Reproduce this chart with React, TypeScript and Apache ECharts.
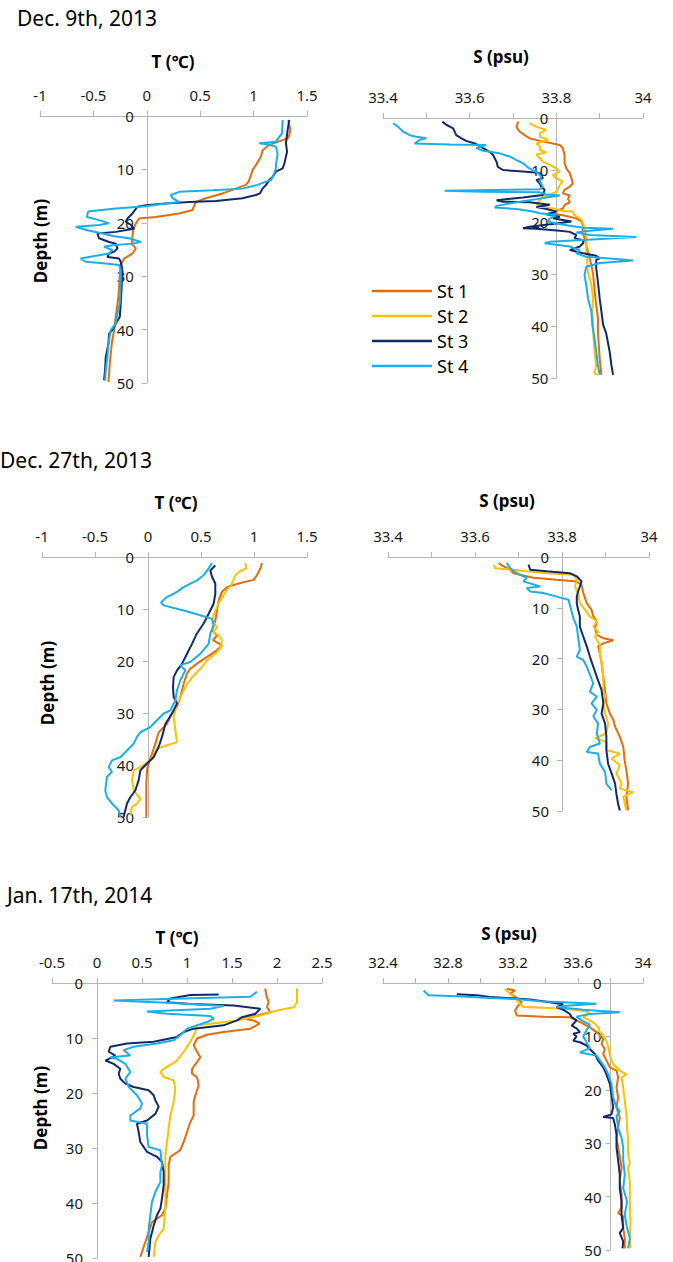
import React, { useEffect, useRef } from "react";
import * as echarts from "echarts";

const STATIONS = ["St 1", "St 2", "St 3", "St 4"];
const COLORS = ["#E46C0A", "#FFC000", "#10296A", "#1AAEEB"];
const DATES = ["Dec. 9th, 2013", "Dec. 27th, 2013", "Jan. 17th, 2014"];
const T_TITLE = "T (℃)";
const S_TITLE = "S (psu)";
const DEPTH_TITLE = "Depth (m)";

// ---- Dec. 9th, 2013 : temperature [T, depth] ----
const dec9T_st1: [number, number][] = [[1.325,0.75],[1.344,2.6],[1.334,3.6],[1.319,4.2],[1.147,5.4],[1.084,6.4],[1.069,7.6],[1.022,9.2],[0.991,10.1],[0.975,11.1],[0.953,12.3],[0.928,12.9],[0.834,13.6],[0.709,14.5],[0.553,15.4],[0.459,16.1],[0.428,17.6],[0.303,18.25],[0.084,18.9],[-0.072,19.2],[-0.103,20.1],[-0.128,21.4],[-0.141,23.9],[-0.103,24.8],[-0.134,25.75],[-0.213,26.7],[-0.244,27.9],[-0.253,30.1],[-0.266,33.9],[-0.291,37.6],[-0.306,40.1],[-0.328,42.6],[-0.347,46.4],[-0.359,49.8]];
const dec9T_st3: [number, number][] = [[1.334,0.75],[1.319,2.6],[1.303,5.1],[1.313,6.7],[1.288,8.9],[1.272,9.8],[1.209,10.4],[1.178,11.4],[1.147,12],[1.116,12.9],[1.084,13.6],[1.059,14.5],[1.022,14.8],[0.897,15.4],[0.647,15.9],[0.397,16.1],[0.178,16.4],[-0.009,16.7],[-0.088,17],[-0.134,18.25],[-0.181,19.2],[-0.197,19.8],[-0.15,20.4],[-0.119,21.1],[-0.291,21.7],[-0.463,22],[-0.447,22.9],[-0.353,23.6],[-0.291,23.9],[-0.275,24.8],[-0.306,25.4],[-0.353,25.75],[-0.369,26.4],[-0.259,26.7],[-0.244,27.3],[-0.228,28.9],[-0.234,31.4],[-0.244,35.1],[-0.253,37.6],[-0.291,38.9],[-0.322,40.1],[-0.353,40.75],[-0.359,42.6],[-0.384,45.1],[-0.391,47.6],[-0.4,49.5]];
const dec9T_st4: [number, number][] = [[1.272,0.75],[1.266,3.25],[1.209,4.8],[1.053,5.1],[1.147,5.4],[1.209,5.75],[1.225,7],[1.209,9.2],[1.209,9.8],[1.194,10.75],[1.163,12],[1.116,12.3],[1.038,12.9],[0.897,13.6],[0.616,13.9],[0.303,14.2],[0.225,14.8],[0.241,15.4],[0.303,16.1],[0.178,16.4],[-0.009,16.9],[-0.291,17.3],[-0.55,17.9],[-0.56,18.9],[-0.447,19.5],[-0.353,20.1],[-0.447,20.4],[-0.666,20.75],[-0.556,21.4],[-0.416,22],[-0.306,22.5],[-0.166,22.9],[-0.056,23.6],[-0.134,23.9],[-0.322,24.2],[-0.4,24.5],[-0.322,25.1],[-0.353,25.75],[-0.541,26.4],[-0.619,26.7],[-0.572,27.3],[-0.384,27.6],[-0.259,27.9],[-0.244,28.9],[-0.244,31.4],[-0.253,35.1],[-0.275,37],[-0.291,38.9],[-0.338,40.1],[-0.359,42.6],[-0.369,45.1],[-0.384,47.6],[-0.391,49.5]];

// ---- Dec. 9th, 2013 : salinity [S, depth] ----
const dec9S_st1: [number, number][] = [[33.712,0.7],[33.708,1.7],[33.715,2.6],[33.727,3.3],[33.738,3.9],[33.762,4.4],[33.792,4.9],[33.808,5.2],[33.815,5.8],[33.819,7.1],[33.819,8.7],[33.823,9.7],[33.831,10.6],[33.835,11.6],[33.838,12.6],[33.831,13.2],[33.819,13.8],[33.815,14.5],[33.831,14.9],[33.827,15.6],[33.831,16.2],[33.819,16.7],[33.815,17.4],[33.8,17.9],[33.788,18.3],[33.815,18.7],[33.846,19.3],[33.858,19.9],[33.862,20.9],[33.86,21.9],[33.865,23.1],[33.869,24.4],[33.873,25.7],[33.877,27],[33.881,28.3],[33.885,30.2],[33.888,32.8],[33.892,36],[33.896,38.5],[33.896,41.1],[33.898,43.7],[33.9,46.2],[33.904,49.4]];
const dec9S_st2: [number, number][] = [[33.738,1],[33.754,1.7],[33.777,2.3],[33.762,2.9],[33.762,3.6],[33.781,4.2],[33.754,4.9],[33.762,5.5],[33.762,6.2],[33.777,6.6],[33.754,7],[33.762,7.8],[33.769,8.4],[33.785,9],[33.8,9.7],[33.808,10.3],[33.792,11],[33.8,11.6],[33.815,12.2],[33.808,12.9],[33.804,13.5],[33.8,14.2],[33.785,14.7],[33.769,15.1],[33.762,15.8],[33.754,16.6],[33.769,17.1],[33.8,17.5],[33.815,17.9],[33.838,18],[33.842,18.7],[33.854,19.3],[33.86,19.9],[33.865,21.2],[33.869,23.1],[33.869,25.7],[33.871,27.6],[33.873,29.6],[33.881,32.1],[33.885,34.7],[33.883,37.2],[33.885,39.8],[33.886,42.4],[33.888,44.9],[33.892,47.5],[33.888,49.1],[33.896,49.4]];
const dec9S_st3: [number, number][] = [[33.537,0.7],[33.546,1.3],[33.562,2],[33.569,3.3],[33.581,3.9],[33.592,4.4],[33.612,4.9],[33.631,5.8],[33.646,6.5],[33.654,7.1],[33.662,8.4],[33.665,9.4],[33.677,10],[33.723,10.3],[33.762,10.6],[33.769,11.6],[33.754,11.9],[33.762,12.6],[33.765,13.2],[33.773,13.8],[33.769,14.8],[33.723,15.3],[33.662,15.8],[33.677,16.1],[33.738,16.2],[33.785,16.7],[33.754,17.1],[33.777,17.5],[33.8,18],[33.777,18.5],[33.808,19],[33.792,19.3],[33.815,19.6],[33.835,19.9],[33.8,20.3],[33.738,20.9],[33.723,21.2],[33.754,21.3],[33.808,21.7],[33.831,21.9],[33.846,22.5],[33.842,23.1],[33.862,23.5],[33.862,24.1],[33.854,24.7],[33.831,25.4],[33.862,26],[33.892,26.5],[33.9,27],[33.892,27.3],[33.892,28.9],[33.896,31.5],[33.9,34.7],[33.904,37.2],[33.908,39.8],[33.915,41.4],[33.923,44.9],[33.927,47.5],[33.931,49.4]];
const dec9S_st4: [number, number][] = [[33.423,1],[33.435,1.7],[33.446,2.6],[33.462,3.3],[33.477,3.6],[33.5,3.9],[33.485,4.2],[33.473,4.9],[33.554,5.1],[33.638,5.2],[33.615,5.8],[33.631,6.3],[33.669,6.8],[33.692,7.4],[33.708,8.1],[33.723,8.7],[33.738,9.7],[33.758,10.6],[33.765,11.3],[33.762,12.2],[33.769,13.2],[33.762,13.7],[33.542,14],[33.631,14.2],[33.762,14.3],[33.777,14.7],[33.808,14.9],[33.777,15.3],[33.754,15.6],[33.723,16],[33.662,16.9],[33.658,17.2],[33.708,17.5],[33.746,18],[33.762,18.3],[33.8,18.7],[33.785,19.3],[33.781,19.9],[33.8,20.3],[33.831,20.7],[33.862,21.1],[33.931,21.3],[33.877,21.7],[33.846,22],[33.877,22.5],[33.985,22.9],[33.892,23.3],[33.785,23.8],[33.773,24.1],[33.831,24.7],[33.854,25.4],[33.846,26],[33.869,26.7],[33.938,27.1],[33.977,27.4],[33.9,27.9],[33.869,28.6],[33.865,30.2],[33.869,32.1],[33.873,34.7],[33.881,37.2],[33.883,39.8],[33.888,42.4],[33.892,44.9],[33.896,47.5],[33.9,49.4]];

// ---- Dec. 27th, 2013 : temperature ----
const dec27T_st1: [number, number][] = [[1.075,1.15],[1.06,2.2],[1.028,3.5],[0.997,4.4],[0.871,5],[0.745,5.8],[0.698,6.7],[0.667,8.3],[0.651,10.3],[0.635,12.2],[0.604,14.1],[0.651,15.1],[0.613,16],[0.698,17],[0.651,17.9],[0.557,19.2],[0.462,20.5],[0.399,21.5],[0.368,22.4],[0.336,24.4],[0.305,26.9],[0.274,28.8],[0.226,30.1],[0.179,32.1],[0.101,33.7],[0.069,35.9],[0.038,37.8],[0.006,39.7],[-0.009,41],[-0.016,43.6],[-0.016,50]];
const dec27T_st2: [number, number][] = [[0.918,1.15],[0.928,2.2],[0.871,2.7],[0.824,3.5],[0.792,5.1],[0.745,6.4],[0.682,8.3],[0.635,10.3],[0.604,12.2],[0.651,13.5],[0.619,14.4],[0.667,15.1],[0.698,16],[0.682,17.6],[0.635,18.6],[0.557,19.9],[0.494,21.5],[0.431,22.8],[0.368,24.4],[0.321,26.3],[0.274,28.2],[0.242,30.8],[0.258,33.3],[0.274,35.6],[0.179,36.2],[0.085,36.9],[0.022,39.1],[-0.072,40.4],[-0.135,41],[-0.151,42.9],[-0.135,44.9],[-0.072,46.5],[-0.104,47.4],[-0.151,48.1],[-0.167,49.7]];
const dec27T_st3: [number, number][] = [[0.635,1.6],[0.588,2.6],[0.604,3.8],[0.635,5.1],[0.635,7.1],[0.619,9],[0.572,10.9],[0.525,12.8],[0.462,14.7],[0.415,16.7],[0.368,18.6],[0.321,20.5],[0.274,21.8],[0.242,23.1],[0.236,25],[0.242,26.9],[0.274,28.2],[0.226,30.1],[0.164,32.1],[0.132,34.6],[0.101,36.5],[0.053,38.5],[-0.009,39.7],[-0.072,41],[-0.088,42.9],[-0.12,44.9],[-0.167,46.2],[-0.198,47.4],[-0.214,48.7],[-0.23,50]];
const dec27T_st4: [number, number][] = [[0.604,1.15],[0.572,2.2],[0.525,3.5],[0.462,4.5],[0.336,5.8],[0.274,6.7],[0.179,7.7],[0.123,8.7],[0.148,9.3],[0.336,10.3],[0.494,11.2],[0.604,11.9],[0.619,13.1],[0.588,14.7],[0.572,16.7],[0.494,18.6],[0.399,20.2],[0.305,20.8],[0.352,21.8],[0.305,23.7],[0.274,25.6],[0.258,27.6],[0.211,29.5],[0.148,30.1],[0.085,31.4],[0.022,32.7],[-0.072,33.7],[-0.104,34.6],[-0.135,35.9],[-0.198,37.2],[-0.261,38.5],[-0.34,39.1],[-0.371,40.4],[-0.34,41.3],[-0.387,42.3],[-0.403,44.9],[-0.387,46.2],[-0.34,47.4],[-0.277,48.7],[-0.261,50]];

// ---- Dec. 27th, 2013 : salinity ----
const dec27S_st1: [number, number][] = [[33.654,1.2],[33.665,1.8],[33.681,2.5],[33.689,3.2],[33.704,3.5],[33.734,4.1],[33.788,4.5],[33.834,4.8],[33.845,5.5],[33.849,7.1],[33.857,9.1],[33.868,10.4],[33.872,11.7],[33.88,12.7],[33.876,14],[33.88,15.3],[33.895,16],[33.918,16.4],[33.895,17],[33.883,17.6],[33.887,18.9],[33.891,20.9],[33.895,23.6],[33.899,26.2],[33.902,28.8],[33.91,30.8],[33.918,32.1],[33.922,33.4],[33.933,35.4],[33.941,37.4],[33.944,40],[33.948,42],[33.952,44.6],[33.948,47.2],[33.952,49.9]];
const dec27S_st2: [number, number][] = [[33.643,1.5],[33.646,2.2],[33.688,2.5],[33.719,2.8],[33.765,3.2],[33.826,3.5],[33.834,4.5],[33.83,5.8],[33.837,7.1],[33.841,9.1],[33.853,10.4],[33.864,11.7],[33.88,12.7],[33.872,13.7],[33.883,14.7],[33.876,15.7],[33.887,17.3],[33.887,18.9],[33.891,20.9],[33.895,23.6],[33.895,26.2],[33.899,27.5],[33.895,28.8],[33.899,30.8],[33.906,32.8],[33.902,34.7],[33.876,35.7],[33.902,36.4],[33.902,38],[33.933,38.7],[33.914,39.7],[33.933,41],[33.925,42.6],[33.937,44.6],[33.933,45.6],[33.964,46.3],[33.941,47.2],[33.948,49.9]];
const dec27S_st3: [number, number][] = [[33.723,1.5],[33.727,2.5],[33.765,2.8],[33.818,3.2],[33.834,3.8],[33.845,4.8],[33.841,5.8],[33.837,6.8],[33.834,7.8],[33.834,9.1],[33.837,10.4],[33.841,11.7],[33.841,13.7],[33.849,15.7],[33.857,17.6],[33.864,19.6],[33.872,21.6],[33.88,23.6],[33.891,26.2],[33.895,28.8],[33.891,30.8],[33.899,32.8],[33.902,35.4],[33.902,38],[33.906,40.7],[33.914,42.6],[33.922,44.6],[33.925,46.6],[33.929,48.6],[33.933,49.9]];
const dec27S_st4: [number, number][] = [[33.673,1.2],[33.681,2.2],[33.696,3.2],[33.719,4.1],[33.711,4.8],[33.75,5.8],[33.719,6.1],[33.727,6.8],[33.757,7.1],[33.788,7.8],[33.815,8.4],[33.818,9.4],[33.822,10.7],[33.826,12],[33.834,13.7],[33.837,15.7],[33.841,18.3],[33.834,19.6],[33.849,20.3],[33.857,21.6],[33.872,24.9],[33.864,26.5],[33.88,27.5],[33.868,28.8],[33.88,30.1],[33.872,31.4],[33.883,32.8],[33.88,34.7],[33.887,36.7],[33.864,37.4],[33.857,38.4],[33.883,38.7],[33.887,40.7],[33.899,42.3],[33.902,44.6],[33.914,45.9]];

// ---- Jan. 17th, 2014 : temperature ----
const jan17T_st1: [number, number][] = [[1.87,1],[1.881,2.2],[1.907,3.5],[1.889,4.4],[1.926,5.3],[1.778,5.9],[1.611,6.4],[1.741,6.8],[1.807,7.4],[1.704,8.3],[1.407,8.9],[1.222,9.4],[1.111,10.1],[1.074,11.3],[1.111,12.5],[1.148,13.5],[1.111,14.4],[1.056,15.6],[1.056,16.5],[1.111,17.1],[1.13,18.6],[1.093,20.4],[1.074,21.6],[1.074,24.1],[1.037,25.3],[1,27.1],[0.963,28.9],[0.926,30.4],[0.87,31],[0.815,31.6],[0.796,33.2],[0.796,36.2],[0.778,38.6],[0.759,41],[0.722,42.2],[0.611,43.5],[0.574,45.3],[0.537,47.1],[0.481,49.8]];
const jan17T_st2: [number, number][] = [[2.222,1],[2.222,3.5],[2.185,4.4],[2,5],[1.815,5.9],[1.556,6.8],[1.259,7.4],[1.111,7.7],[1.093,8.9],[1.037,10.7],[0.963,12.5],[0.889,14.1],[0.741,15.6],[0.704,16.2],[0.741,17.1],[0.852,17.7],[0.87,19.2],[0.852,21.6],[0.815,24.1],[0.796,26.5],[0.778,28.9],[0.759,31.3],[0.759,33.8],[0.759,36.2],[0.759,38.6],[0.759,41],[0.741,44.7],[0.685,45.9],[0.648,47.1],[0.63,49.8]];
const jan17T_st3: [number, number][] = [[1.352,2.1],[1.037,2.2],[0.815,2.8],[0.778,3.5],[1.037,3.8],[1.519,4.1],[1.815,4.7],[1.759,5.6],[1.611,6.2],[1.556,6.8],[1.407,7.7],[1.074,8.3],[0.963,8.9],[0.889,9.8],[0.63,10.7],[0.333,11],[0.148,11.6],[0.13,12.5],[0.204,13.2],[0.093,14.1],[0.185,14.7],[0.259,15.6],[0.241,16.5],[0.259,17.4],[0.315,18.3],[0.407,18.9],[0.574,19.5],[0.63,20.4],[0.648,21.3],[0.685,22.5],[0.648,23.8],[0.556,25],[0.444,25.6],[0.463,27.1],[0.481,28.9],[0.556,30.7],[0.667,31.6],[0.722,32.5],[0.741,34.4],[0.741,36.8],[0.722,39.2],[0.704,41],[0.667,42.2],[0.63,44.1],[0.593,46.5],[0.574,49.8]];
const jan17T_st4: [number, number][] = [[1.778,1.6],[1.704,2.5],[0.963,2.8],[0.185,3.2],[0.778,3.6],[1.407,4.2],[1.259,4.7],[0.556,5.2],[0.778,5.6],[1.259,6],[1.296,6.5],[1.222,7.1],[1.111,7.7],[1,8.3],[0.926,9.5],[0.852,10.4],[0.667,11],[0.407,11.6],[0.296,12.2],[0.37,13.2],[0.148,13.5],[0.222,13.8],[0.315,14.7],[0.37,16.2],[0.315,17.4],[0.352,18.9],[0.444,20.4],[0.5,21.9],[0.481,22.8],[0.37,24.1],[0.37,25],[0.556,25.6],[0.556,27.7],[0.574,29.8],[0.704,30.4],[0.722,33.2],[0.704,34.4],[0.704,36.2],[0.648,38],[0.611,39.8],[0.593,42.2],[0.574,44.7],[0.574,47.1],[0.556,48.9]];

// ---- Jan. 17th, 2014 : salinity ----
const jan17S_st1: [number, number][] = [[33.161,1.1],[33.213,1.4],[33.182,2],[33.223,2.8],[33.254,3.6],[33.233,4.2],[33.213,5.1],[33.223,6.1],[33.387,6.3],[33.55,6.4],[33.591,7],[33.632,7.6],[33.673,8.3],[33.714,9.2],[33.735,9.8],[33.755,10.5],[33.745,11.4],[33.765,12.4],[33.755,13.3],[33.775,14.5],[33.796,15.8],[33.837,16.4],[33.847,17.7],[33.837,19.6],[33.847,21.4],[33.837,23.3],[33.857,25.2],[33.847,27.1],[33.837,29],[33.847,30.8],[33.857,32.4],[33.868,34.6],[33.857,37.1],[33.868,39.6],[33.868,42.1],[33.847,43.1],[33.878,43.7],[33.878,45.9],[33.888,47.8],[33.888,49.7]];
const jan17S_st2: [number, number][] = [[33.151,1.1],[33.182,2],[33.213,2.9],[33.243,3.9],[33.264,4.5],[33.428,4.7],[33.591,5],[33.673,5.5],[33.632,6.4],[33.673,7],[33.704,7.6],[33.724,8.3],[33.735,9.2],[33.755,9.8],[33.775,10.8],[33.786,12],[33.796,13.6],[33.816,15.2],[33.857,16.4],[33.898,17.1],[33.868,17.7],[33.878,19.6],[33.888,22.1],[33.898,24.6],[33.902,27.1],[33.908,29.6],[33.908,32.1],[33.919,33.7],[33.908,34.6],[33.919,37.1],[33.919,39.6],[33.919,42.1],[33.923,44.7],[33.919,47.2],[33.923,49.7]];
const jan17S_st3: [number, number][] = [[32.854,2.1],[32.977,2.3],[33.059,2.6],[33.161,2.8],[33.305,3.1],[33.428,3.6],[33.509,4],[33.468,4.5],[33.509,5],[33.55,5.8],[33.561,6.4],[33.591,7],[33.561,8],[33.591,8.5],[33.612,9.2],[33.571,9.5],[33.591,10],[33.571,10.8],[33.612,11.1],[33.653,11.7],[33.673,12.4],[33.704,13.3],[33.724,14.5],[33.755,15.8],[33.775,17.1],[33.796,18.9],[33.806,20.8],[33.816,23.3],[33.806,24.6],[33.755,25.1],[33.816,25.3],[33.827,26.5],[33.837,28.4],[33.837,30.8],[33.847,33.2],[33.857,35.9],[33.857,38.4],[33.868,40.9],[33.868,43.4],[33.878,45.9],[33.857,46.8],[33.878,48.4],[33.874,49.7]];
const jan17S_st4: [number, number][] = [[32.65,1.4],[32.68,2.3],[32.854,2.5],[33.059,2.8],[33.223,3],[33.366,3.4],[33.509,3.6],[33.714,3.9],[33.55,4.2],[33.468,4.5],[33.632,5],[33.857,5.5],[33.673,5.8],[33.591,6.3],[33.622,7],[33.673,7.8],[33.653,8.8],[33.632,10],[33.653,11.1],[33.673,12.2],[33.612,13],[33.714,13.6],[33.735,14.5],[33.765,15.8],[33.786,17.1],[33.806,18.9],[33.816,21.4],[33.837,23.3],[33.857,24],[33.837,24.9],[33.847,27.1],[33.868,29],[33.878,30.8],[33.878,33.2],[33.888,35.9],[33.878,38.4],[33.902,40.9],[33.888,43.4],[33.902,45.9],[33.919,47.8],[33.908,49.7]];

const FONT = "'Noto Sans', 'Open Sans', sans-serif";

type Panel = {
  series: ([number, number][] | null)[];
  min: number; max: number; interval: number; labelEvery: number; cross: number;
  grid: { left: number; top: number; width: number; height: number };
  yLabelMargin: number;
};

const PANELS: Panel[] = [
  { series: [dec9T_st1, null, dec9T_st3, dec9T_st4], min: -1, max: 1.5, interval: 0.5, labelEvery: 1, cross: 0,
    grid: { left: 40, top: 116, width: 267, height: 267 }, yLabelMargin: 13 },
  { series: [dec9S_st1, dec9S_st2, dec9S_st3, dec9S_st4], min: 33.4, max: 34, interval: 0.1, labelEvery: 2, cross: 33.8,
    grid: { left: 383, top: 118, width: 260, height: 260 }, yLabelMargin: 8 },
  { series: [dec27T_st1, dec27T_st2, dec27T_st3, dec27T_st4], min: -1, max: 1.5, interval: 0.5, labelEvery: 1, cross: 0,
    grid: { left: 42, top: 557, width: 265, height: 260 }, yLabelMargin: 14 },
  { series: [dec27S_st1, dec27S_st2, dec27S_st3, dec27S_st4], min: 33.4, max: 34, interval: 0.1, labelEvery: 2, cross: 33.8,
    grid: { left: 388, top: 557, width: 261, height: 254 }, yLabelMargin: 13 },
  { series: [jan17T_st1, jan17T_st2, jan17T_st3, jan17T_st4], min: -0.5, max: 2.5, interval: 0.5, labelEvery: 1, cross: 0,
    grid: { left: 52, top: 983, width: 270, height: 275 }, yLabelMargin: 14 },
  { series: [jan17S_st1, jan17S_st2, jan17S_st3, jan17S_st4], min: 32.4, max: 34, interval: 0.2, labelEvery: 2, cross: 33.8,
    grid: { left: 383, top: 983, width: 260, height: 267 }, yLabelMargin: 9 },
];

const AXIS_COLOR = "#b5b5b5";
const LABEL_COLOR = "#1a1a1a";

function buildOption() {
  const grid = PANELS.map((p) => ({ ...p.grid, containLabel: false, outerBoundsMode: "none" }));
  const xAxis = PANELS.map((p, i) => ({
    type: "value", gridIndex: i, position: "top", min: p.min, max: p.max, interval: p.interval,
    axisLine: { show: true, onZero: false, lineStyle: { color: AXIS_COLOR, width: 1 } },
    axisTick: { show: true, length: 5, lineStyle: { color: AXIS_COLOR } },
    splitLine: { show: false },
    axisLabel: {
      margin: 14, color: LABEL_COLOR, fontSize: 15, fontFamily: FONT,
      formatter: (v: number) => {
        const k = Math.round((v - p.min) / p.interval);
        return k % p.labelEvery === 0 ? String(Math.round(v * 100) / 100) : "";
      },
    },
  }));
  const yAxis = PANELS.map((p, i) => {
    // the depth axis crosses the value axis at p.cross (0 for T, 33.8 for S)
    const offset = -((p.cross - p.min) / (p.max - p.min)) * p.grid.width;
    return {
      type: "value", gridIndex: i, inverse: true, min: 0, max: 50, interval: 10, position: "left", offset,
      axisLine: { show: true, onZero: false, lineStyle: { color: AXIS_COLOR, width: 1 } },
      axisTick: { show: true, length: 5, lineStyle: { color: AXIS_COLOR } },
      splitLine: { show: false },
      axisLabel: { margin: p.yLabelMargin, color: LABEL_COLOR, fontSize: 15, fontFamily: FONT },
    };
  });
  const series: any[] = [];
  PANELS.forEach((p, i) => {
    p.series.forEach((d, j) => {
      if (!d) return;
      series.push({
        type: "line", name: STATIONS[j], xAxisIndex: i, yAxisIndex: i, data: d,
        symbol: "none", showSymbol: false, silent: true, color: COLORS[j],
        lineStyle: { color: COLORS[j], width: 2 }, itemStyle: { color: COLORS[j] },
      });
    });
  });

  const titleText = (text: string, x: number, y: number) => ({
    type: "text", x, y, silent: true,
    style: { text, fontSize: 17, fontWeight: "bold", fontFamily: FONT, fill: "#000", textAlign: "center", textVerticalAlign: "middle" },
  });
  const dateText = (text: string, x: number, y: number) => ({
    type: "text", x, y, silent: true,
    style: { text, fontSize: 21, fontFamily: FONT, fill: "#000", textAlign: "left", textVerticalAlign: "middle" },
  });
  const depthText = (x: number, y: number) => ({
    type: "text", x, y, rotation: Math.PI / 2, silent: true,
    style: { text: DEPTH_TITLE, fontSize: 17, fontWeight: "bold", fontFamily: FONT, fill: "#000", textAlign: "center", textVerticalAlign: "middle" },
  });

  return {
    animation: false,
    backgroundColor: "#ffffff",
    grid, xAxis, yAxis, series,
    legend: {
      data: STATIONS, orient: "vertical", left: 367, top: 277, itemWidth: 60, itemHeight: 2.5, itemGap: 7,
      icon: "rect", selectedMode: false,
      textStyle: { fontSize: 18, color: "#000", fontFamily: FONT, lineHeight: 17 },
    },
    graphic: [
      dateText(DATES[0], 17, 18),
      dateText(DATES[1], 0, 460),
      dateText(DATES[2], 7, 895),
      titleText(T_TITLE, 173, 61),
      titleText(S_TITLE, 501, 56),
      titleText(T_TITLE, 176, 502),
      titleText(S_TITLE, 507, 500),
      titleText(T_TITLE, 177, 937),
      titleText(S_TITLE, 509, 933),
      depthText(40, 241),
      depthText(47, 683),
      depthText(40, 1108),
    ],
  };
}

export default function App() {
  const ref = useRef<HTMLDivElement>(null);
  useEffect(() => {
    if (!ref.current) return;
    const chart = echarts.init(ref.current, null, { renderer: "svg" });
    chart.setOption(buildOption() as any);
    return () => chart.dispose();
  }, []);
  return <div ref={ref} style={{ position: "absolute", left: 0, top: 0, width: 673, height: 1262 }} />;
}
